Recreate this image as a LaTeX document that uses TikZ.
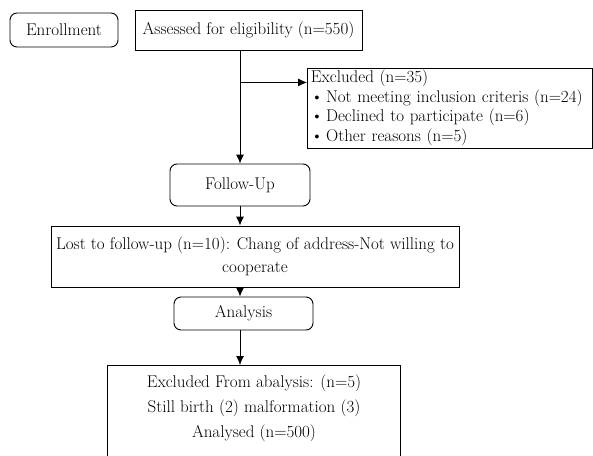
\documentclass[tikz,border=0pt]{standalone}
\usepackage{fontspec}
\usepackage{tikz}
\usetikzlibrary{arrows.meta}

\begin{document}
\begin{tikzpicture}[x=1pt, y=-1pt, line width=0.9pt, >={Latex[length=9pt,width=8pt]},
    every node/.style={font=\fontsize{17}{19.5}\selectfont, inner sep=0pt},
    plainbox/.style={draw, minimum width=#1},
    roundbox/.style={draw, rounded corners=7pt, minimum width=#1}]
  \useasboundingbox (0,0) rectangle (593,455);

  % enrollment phase
  \node[roundbox=108, minimum height=34] (enroll) at (64,30) {Enrollment};
  \node[plainbox=227, minimum height=40] (assess) at (248.5,30) {Assessed for eligibility (n=550)};
  \node[plainbox=285, minimum height=80, anchor=west, text width=278, align=left, inner xsep=3.5pt] (excl) at (307,108)
    {Excluded (n=35)\\
     \textbullet\,Not meeting inclusion criteris (n=24)\\
     \textbullet\,Declined to participate (n=6)\\
     \textbullet\,Other reasons (n=5)};

  % follow-up phase
  \node[roundbox=140, minimum height=42] (follow) at (240,185) {Follow-Up};
  \node[plainbox=408, minimum height=61, align=center, font=\fontsize{17}{23}\selectfont] (lost) at (255,256.5)
    {Lost to follow-up (n=10): Chang of address-Not willing to\\cooperate};

  % analysis phase
  \node[roundbox=139, minimum height=33] (analysis) at (243.5,313.5) {Analysis};
  \node[minimum width=292, minimum height=85, anchor=north, align=center, font=\fontsize{17}{25}\selectfont] (result) at (254,365)
    {Excluded From abalysis: (n=5)\\Still birth (2) malformation (3)\\Analysed (n=500)};
  \draw (result.south west) -- (result.north west) -- (result.north east) -- (result.south east) -- ++(0,6);
  \draw (result.south west) -- ++(0,6);

  % arrows
  \coordinate (branch) at (assess.south -| follow.north);
  \draw[->] (branch) -- (follow.north);
  \draw[->] ([yshift=-32pt]branch) -- ([yshift=-32pt]branch -| excl.west);
  \draw[->] (follow.south) -- (follow.south |- lost.north);
  \draw[->] (lost.south -| follow.south) -- (analysis.north -| follow.south);
  \draw[->] (analysis.south -| follow.south) -- (result.north -| follow.south);
\end{tikzpicture}
\end{document}
